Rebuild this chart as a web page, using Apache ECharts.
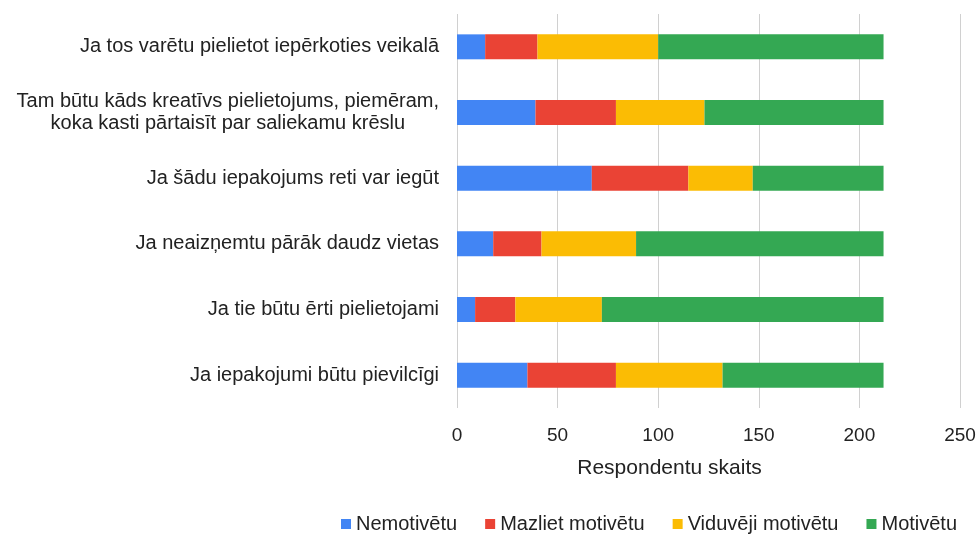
<!DOCTYPE html>
<html>
<head>
<meta charset="utf-8">
<script src="https://cdn.jsdelivr.net/npm/echarts@6/dist/echarts.min.js"></script>
<style>
  html, body { margin: 0; padding: 0; background: #fff; }
  #chart { width: 980px; height: 534px; }
</style>
</head>
<body>
<div id="chart"></div>
<script>
// top to bottom
const categories = [
  'Ja tos varētu pielietot iepērkoties veikalā',
  'Tam būtu kāds kreatīvs pielietojums, piemēram,\nkoka kasti pārtaisīt par saliekamu krēslu',
  'Ja šādu iepakojums reti var iegūt',
  'Ja neaizņemtu pārāk daudz vietas',
  'Ja tie būtu ērti pielietojami',
  'Ja iepakojumi būtu pievilcīgi'
]
const nemotivetu = [14, 39, 67, 18, 9, 35]
const mazlietMotivetu = [26, 40, 48, 24, 20, 44]
const viduvejiMotivetu = [60, 44, 32, 47, 43, 53]
const motivetu = [112, 89, 65, 123, 140, 80]
const xTicks = [0, 50, 100, 150, 200, 250]

const font = '"Liberation Sans", Arial, sans-serif'
const mkSeries = (name, data, color) => ({
  name,
  type: 'bar',
  stack: 'total',
  data,
  barWidth: '38%',
  itemStyle: { color },
  emphasis: { disabled: true }
})

const chart = echarts.init(document.getElementById('chart'))
chart.setOption({
  animation: false,
  textStyle: { fontFamily: font },
  grid: { left: 457, right: 20, top: 14, bottom: 126, containLabel: false },
  legend: {
    top: 509,
    left: 336,
    itemWidth: 10,
    itemHeight: 10,
    itemGap: 28,
    icon: 'rect',
    textStyle: { fontFamily: font, fontSize: 20, color: '#222' },
    data: ['Nemotivētu', 'Mazliet motivētu', 'Viduvēji motivētu', 'Motivētu']
  },
  xAxis: {
    type: 'value',
    min: xTicks[0],
    max: xTicks[xTicks.length - 1],
    interval: 50,
    name: 'Respondentu skaits',
    nameLocation: 'middle',
    nameGap: 50,
    nameTextStyle: { fontFamily: font, fontSize: 21, color: '#222', padding: [0, 78, 0, 0] },
    axisLine: { show: false },
    axisTick: { show: false },
    axisLabel: { fontFamily: font, fontSize: 19, color: '#222', margin: 18 },
    splitLine: { lineStyle: { color: '#d0d0d0', width: 1 } }
  },
  yAxis: {
    type: 'category',
    inverse: true,
    data: categories,
    axisLine: { show: false },
    axisTick: { show: false },
    axisLabel: {
      margin: 18,
      formatter: v => v.split('\n').map(l => '{c|' + l + '}').join('\n'),
      rich: { c: { fontFamily: font, fontSize: 20, color: '#222', align: 'center', lineHeight: 22 } }
    }
  },
  series: [
    mkSeries('Nemotivētu', nemotivetu, '#4285F4'),
    mkSeries('Mazliet motivētu', mazlietMotivetu, '#EA4335'),
    mkSeries('Viduvēji motivētu', viduvejiMotivetu, '#FBBC04'),
    mkSeries('Motivētu', motivetu, '#34A853')
  ]
})
</script>
</body>
</html>
